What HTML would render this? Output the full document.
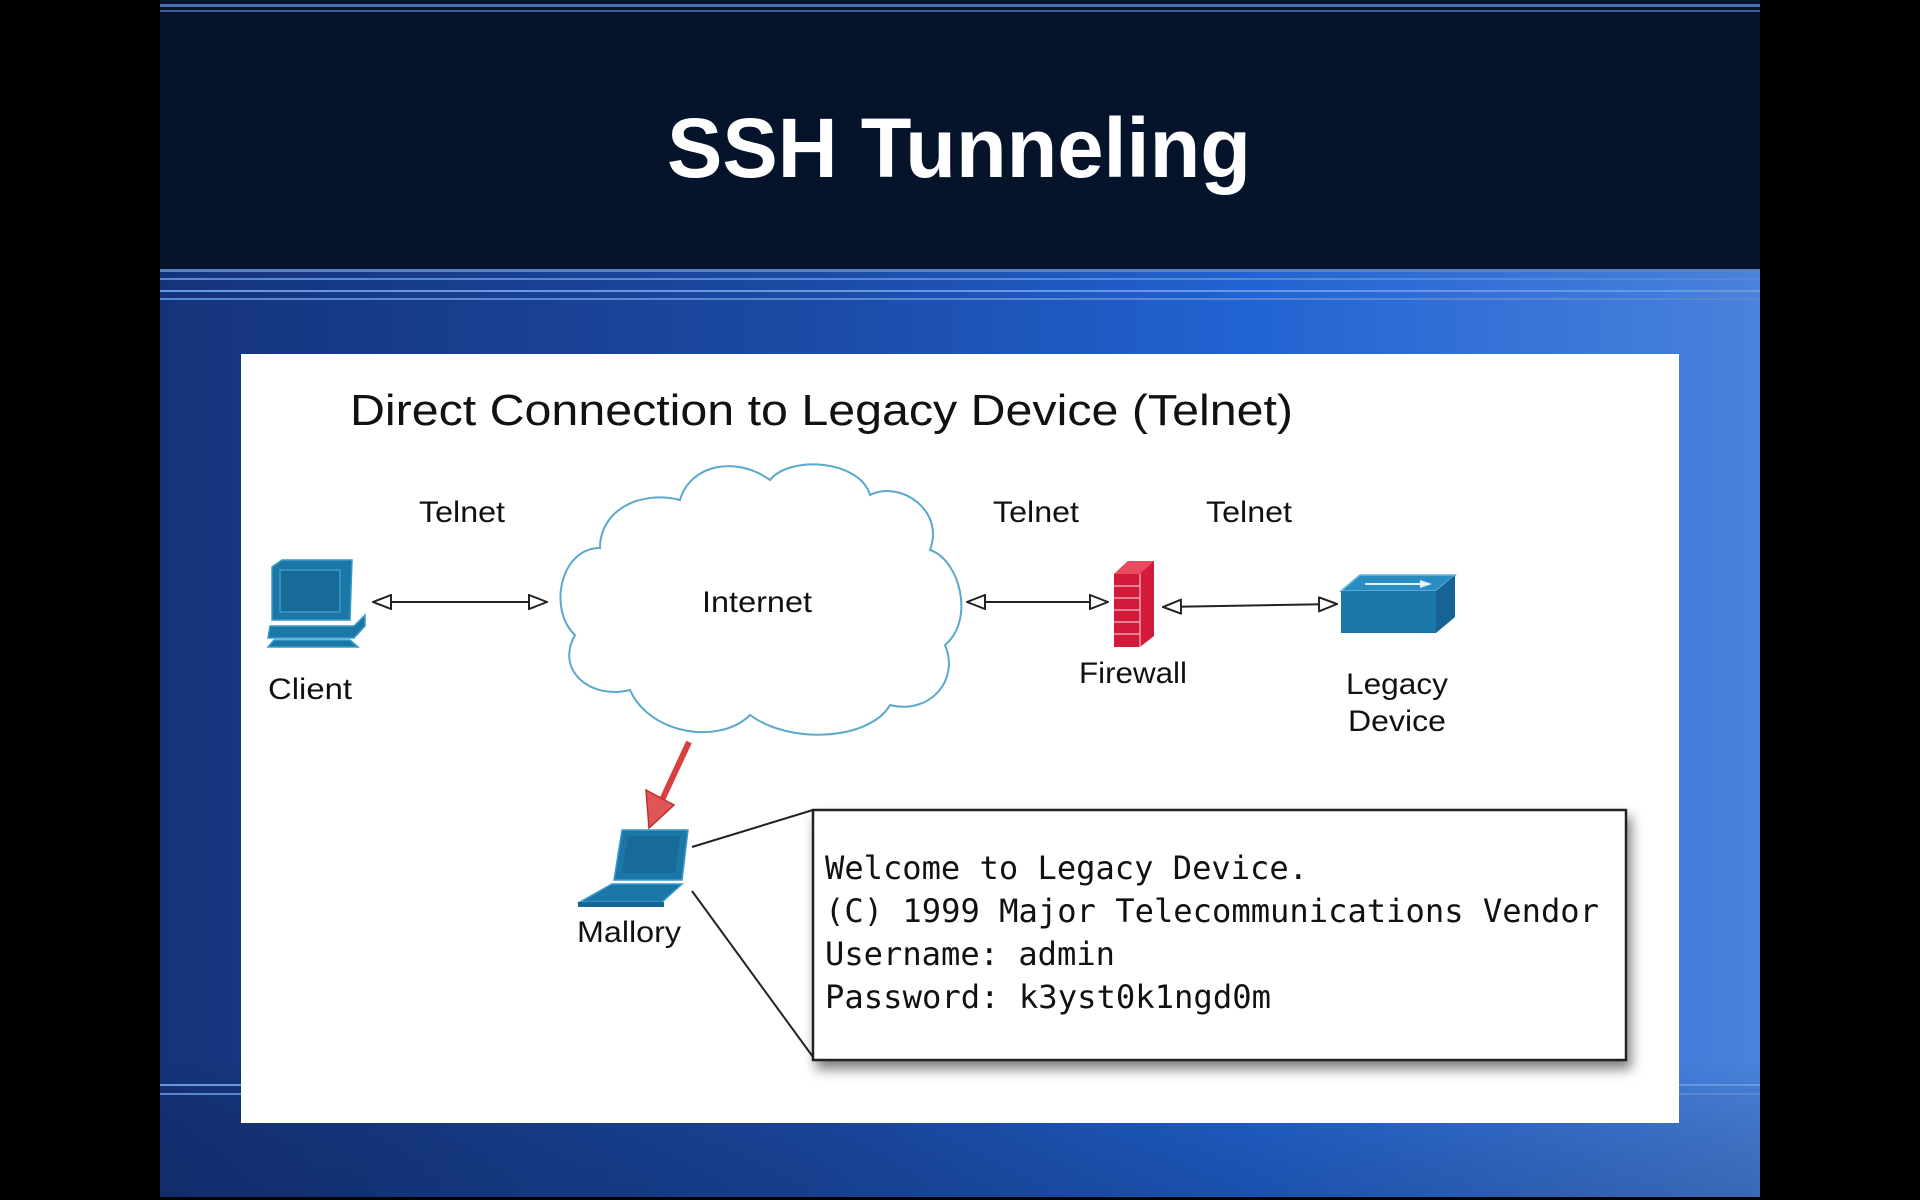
<!DOCTYPE html>
<html><head><meta charset="utf-8"><style>html,body{margin:0;padding:0;background:#000;width:1920px;height:1200px;overflow:hidden}</style></head>
<body>
<svg width="1920" height="1200" viewBox="0 0 1920 1200" xmlns="http://www.w3.org/2000/svg">
<defs>
<linearGradient id="bg" x1="0" y1="0" x2="1" y2="0">
<stop offset="0" stop-color="#15337a"/><stop offset="0.4" stop-color="#1b4aa5"/><stop offset="0.68" stop-color="#2163d2"/><stop offset="1" stop-color="#4a82dc"/>
</linearGradient>
<linearGradient id="bgv" x1="0" y1="0" x2="0" y2="1">
<stop offset="0" stop-color="#000" stop-opacity="0"/><stop offset="0.85" stop-color="#000" stop-opacity="0"/><stop offset="1" stop-color="#071a40" stop-opacity="0.25"/>
</linearGradient>
<filter id="sh" x="-5%" y="-5%" width="115%" height="125%"><feDropShadow dx="4" dy="8" stdDeviation="6" flood-color="#000" flood-opacity="0.5"/></filter>
<marker id="ah" viewBox="0 0 20 16" refX="19" refY="8" markerWidth="20" markerHeight="16" markerUnits="userSpaceOnUse" orient="auto-start-reverse">
<path d="M1,1 L19,8 L1,15 Z" fill="#fff" stroke="#222" stroke-width="2"/>
</marker>
</defs>
<rect x="0" y="0" width="1920" height="1200" fill="#000"/>
<rect x="160" y="270" width="1600" height="927" fill="url(#bg)"/>
<rect x="160" y="270" width="1600" height="927" fill="url(#bgv)"/>
<rect x="160" y="0" width="1600" height="269" fill="#06142b"/>
<rect x="160" y="4" width="1600" height="3" fill="#4a6fb0"/>
<rect x="160" y="10" width="1600" height="2" fill="#3a5f9c"/>
<rect x="160" y="269" width="1600" height="3" fill="#5a7fc0"/>
<rect x="160" y="278" width="1600" height="2" fill="#5a88d0"/>
<rect x="160" y="290" width="1600" height="2" fill="#6a98e0"/>
<rect x="160" y="298" width="1600" height="2" fill="#5a88d0"/>
<rect x="160" y="1084" width="1600" height="2" fill="#6a98e0"/>
<rect x="160" y="1093" width="1600" height="2" fill="#5a88d0"/>
<text x="959" y="177" text-anchor="middle" font-family="Liberation Sans, sans-serif" font-weight="bold" font-size="84" fill="#fff" textLength="584" lengthAdjust="spacingAndGlyphs">SSH Tunneling</text>

<rect x="241" y="354" width="1438" height="769" fill="#fff"/>
<text x="350" y="425" font-family="Liberation Sans, sans-serif" font-size="44" fill="#111" textLength="943" lengthAdjust="spacingAndGlyphs">Direct Connection to Legacy Device (Telnet)</text>

<!-- cloud -->
<path d="M600,548 C560,548 548,610 575,635 C555,670 590,700 630,690 C650,735 720,745 750,715 C790,745 870,740 890,705 C930,715 960,680 945,645 C975,620 960,560 930,550 C945,510 900,480 870,495 C860,460 790,455 770,480 C735,455 690,465 680,500 C640,490 600,510 600,548 Z" fill="#fff" stroke="#5aa8cc" stroke-width="2"/>

<g font-family="Liberation Sans, sans-serif" font-size="30" fill="#111" text-anchor="middle">
<text x="462" y="522" textLength="86" lengthAdjust="spacingAndGlyphs">Telnet</text>
<text x="1036" y="522" textLength="86" lengthAdjust="spacingAndGlyphs">Telnet</text>
<text x="1249" y="522" textLength="86" lengthAdjust="spacingAndGlyphs">Telnet</text>
<text x="310" y="699" textLength="84" lengthAdjust="spacingAndGlyphs">Client</text>
<text x="757" y="612" textLength="110" lengthAdjust="spacingAndGlyphs">Internet</text>
<text x="1133" y="683" textLength="108" lengthAdjust="spacingAndGlyphs">Firewall</text>
<text x="1397" y="694" textLength="102" lengthAdjust="spacingAndGlyphs">Legacy</text>
<text x="1397" y="731" textLength="98" lengthAdjust="spacingAndGlyphs">Device</text>
<text x="629" y="942" textLength="104" lengthAdjust="spacingAndGlyphs">Mallory</text>
</g>

<!-- connectors -->
<g stroke="#222" stroke-width="2" fill="none">
<line x1="373" y1="602" x2="547" y2="602" marker-start="url(#ah)" marker-end="url(#ah)"/>
<line x1="967" y1="602" x2="1108" y2="602" marker-start="url(#ah)" marker-end="url(#ah)"/>
<line x1="1163" y1="607" x2="1337" y2="604" marker-start="url(#ah)" marker-end="url(#ah)"/>
</g>

<!-- client computer -->
<g fill="#1a77a8" stroke="#3a9ac8" stroke-width="1.5">
<path d="M272,567 L282,560 L352,560 L350,620 L272,620 Z"/>
<rect x="280" y="570" width="60" height="42" fill="#186a98"/>
<path d="M270,626 L354,626 L365,615 L365,626 L354,638 L268,638 Z"/>
<path d="M274,640 L350,640 L358,647 L268,647 Z"/>
</g>

<!-- firewall -->
<g>
<path d="M1114,574 L1128,561 L1154,561 L1154,636 L1140,647 L1114,647 Z" fill="#d41a3a"/>
<path d="M1114,574 L1128,561 L1154,561 L1140,574 Z" fill="#e84a60"/>
<g stroke="#f2a0b0" stroke-width="1.5">
<line x1="1114" y1="586" x2="1140" y2="586"/><line x1="1114" y1="598" x2="1140" y2="598"/><line x1="1114" y1="610" x2="1140" y2="610"/><line x1="1114" y1="622" x2="1140" y2="622"/><line x1="1114" y1="634" x2="1140" y2="634"/>
<line x1="1140" y1="574" x2="1140" y2="647"/>
</g>
</g>

<!-- legacy device -->
<g>
<path d="M1341,591 L1360,575 L1455,575 L1436,591 Z" fill="#2a8cc0" stroke="#60b8e0" stroke-width="1.5"/>
<rect x="1341" y="591" width="95" height="42" fill="#1a77a8"/>
<path d="M1436,591 L1455,575 L1455,617 L1436,633 Z" fill="#176494"/>
<path d="M1365,583 L1420,583 L1420,580 L1432,584 L1420,588 L1420,585 L1365,585 Z" fill="#e0f4ff"/>
</g>

<!-- red arrow -->
<g>
<line x1="689" y1="742" x2="662" y2="800" stroke="#d84040" stroke-width="6"/>
<path d="M646,790 L674,805 L649,828 Z" fill="#e05555" stroke="#b83030" stroke-width="1.5"/>
</g>

<!-- laptop -->
<g>
<path d="M622,830 L688,830 L682,880 L614,880 Z" fill="#1a77a8" stroke="#3a9ac8" stroke-width="1.5"/>
<path d="M628,836 L680,836 L675,873 L622,873 Z" fill="#186a98"/>
<path d="M612,884 L682,884 L662,902 L580,902 Z" fill="#1a77a8" stroke="#3a9ac8" stroke-width="1.5"/>
<rect x="578" y="902" width="86" height="5" fill="#176494"/>
</g>

<!-- callout -->
<g stroke="#222" stroke-width="2">
<line x1="692" y1="847" x2="813" y2="810"/>
<line x1="692" y1="891" x2="813" y2="1057"/>
</g>
<rect x="813" y="810" width="813" height="250" fill="#fff" stroke="#222" stroke-width="2.5" filter="url(#sh)"/>
<g font-family="DejaVu Sans Mono, Liberation Mono, monospace" font-size="32" fill="#111">
<text x="825" y="879" textLength="483" lengthAdjust="spacingAndGlyphs">Welcome to Legacy Device.</text>
<text x="825" y="922" textLength="774" lengthAdjust="spacingAndGlyphs">(C) 1999 Major Telecommunications Vendor</text>
<text x="825" y="965" textLength="290" lengthAdjust="spacingAndGlyphs">Username: admin</text>
<text x="825" y="1008" textLength="446" lengthAdjust="spacingAndGlyphs">Password: k3yst0k1ngd0m</text>
</g>
</svg>
</body></html>
